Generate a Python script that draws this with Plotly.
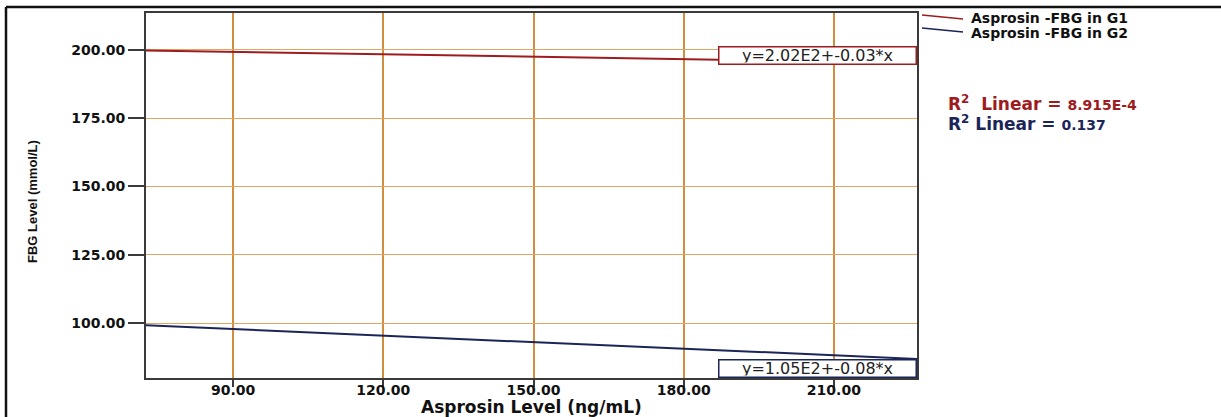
import plotly.graph_objects as go

# ---------------- data ----------------
asprosin_x = [72.6, 226.6]          # x extent of the fitted lines (ng/mL)
fbg_g1 = [199.8, 195.2]             # fitted FBG, group 1
fbg_g2 = [99.2, 86.9]               # fitted FBG, group 2
x_ticks = [90, 120, 150, 180, 210]
y_ticks = [100, 125, 150, 175, 200]
series_names = ["Asprosin -FBG in G1", "Asprosin -FBG in G2"]
equations = ["y=2.02E2+-0.03*x", "y=1.05E2+-0.08*x"]
r2_values = ["8.915E-4", "0.137"]
x_title = "Asprosin Level (ng/mL)"
y_title = "FBG Level (mmol/L)"

# ---------------- style ----------------
W, H = 1221, 417
L, R, T, B = 146, 917, 11, 378          # plot area in pixels
RED = "#9E1B1E"
NAVY = "#1B2557"
VGRID = "#D28E3E"
HGRID = "#E2A462"
BOLD = "DejaVu Sans"
NARROW = "Liberation Sans Narrow, Arial Narrow, Liberation Sans, Arial, sans-serif"


def px(x):
    return (x - L) / (R - L)


def py(y):
    return (B - y) / (B - T)


fig = go.Figure()
fig.add_trace(go.Scatter(x=asprosin_x, y=fbg_g1, mode="lines", name=series_names[0],
                         line=dict(color=RED, width=2), showlegend=False))
fig.add_trace(go.Scatter(x=asprosin_x, y=fbg_g2, mode="lines", name=series_names[1],
                         line=dict(color=NAVY, width=2), showlegend=False))

axis_common = dict(showline=True, linecolor="#3a3a3a", linewidth=2, mirror=True,
                   ticks="outside", tickcolor="#3a3a3a", tickwidth=2,
                   tickformat=".2f", zeroline=False,
                   tickfont=dict(family=BOLD, size=14, color="#111", weight="bold"))

fig.update_xaxes(range=[72.6, 226.6], tickvals=x_ticks, ticklen=7, ticklabelstandoff=-9,
                 showgrid=True, gridcolor=VGRID, gridwidth=2, **axis_common)
fig.update_yaxes(range=[79.9, 213.5], tickvals=y_ticks, ticklen=16,
                 showgrid=True, gridcolor=HGRID, gridwidth=1, **axis_common)

annotations = []
# axis titles
annotations.append(dict(text=x_title, xref="paper", yref="paper", x=px(531), y=py(407),
                        xanchor="center", yanchor="middle", showarrow=False,
                        font=dict(family=BOLD, size=17, color="#111", weight="bold")))
annotations.append(dict(text=y_title, xref="paper", yref="paper", x=px(33), y=py(201),
                        xanchor="center", yanchor="middle", showarrow=False, textangle=-90,
                        font=dict(family=NARROW, size=13, color="#111", weight="bold")))
# equation boxes
for eq, col, ycen in [(equations[0], RED, 53.5), (equations[1], NAVY, 368)]:
    annotations.append(dict(text=eq, xref="paper", yref="paper", x=px(917), y=py(ycen),
                            xanchor="right", yanchor="middle", showarrow=False,
                            width=194, height=14, borderpad=1, borderwidth=1.5,
                            bordercolor=col, bgcolor="white", align="center",
                            font=dict(family="DejaVu Sans", size=16, color="#222")))
# legend texts
for name, ycen in [(series_names[0], 16), (series_names[1], 31)]:
    annotations.append(dict(text=name, xref="paper", yref="paper", x=px(969), y=py(ycen),
                            xanchor="left", yanchor="middle", showarrow=False,
                            font=dict(family=BOLD, size=14, color="#111", weight="bold")))
# R squared texts
for val, col, ycen, gap in [(r2_values[0], RED, 101, "  "), (r2_values[1], NAVY, 122, " ")]:
    annotations.append(dict(text=f"R<sup>2</sup>{gap}Linear = <span style='font-size:14px'>{val}</span>",
                            xref="paper", yref="paper", x=px(946), y=py(ycen),
                            xanchor="left", yanchor="middle", showarrow=False,
                            font=dict(family=BOLD, size=17, color=col, weight="bold")))

shapes = [
    # outer frame (top and left edges)
    dict(type="line", xref="paper", yref="paper", x0=px(6), x1=px(1225), y0=py(5), y1=py(5),
         line=dict(color="#111", width=2.5)),
    dict(type="line", xref="paper", yref="paper", x0=px(6), x1=px(6), y0=py(5), y1=py(425),
         line=dict(color="#111", width=2.5)),
    # legend samples
    dict(type="line", xref="paper", yref="paper", x0=px(922), x1=px(963), y0=py(13), y1=py(17),
         line=dict(color=RED, width=1.5)),
    dict(type="line", xref="paper", yref="paper", x0=px(922), x1=px(963), y0=py(26), y1=py(30),
         line=dict(color=NAVY, width=1.5)),
]

fig.update_layout(width=W, height=H, margin=dict(l=L, r=W - R, t=T, b=H - B),
                  paper_bgcolor="white", plot_bgcolor="white",
                  annotations=annotations, shapes=shapes, showlegend=False)

fig.write_html("out.html", config={"displayModeBar": False},
               post_script="document.body.style.margin='0';document.body.style.overflow='hidden';")
